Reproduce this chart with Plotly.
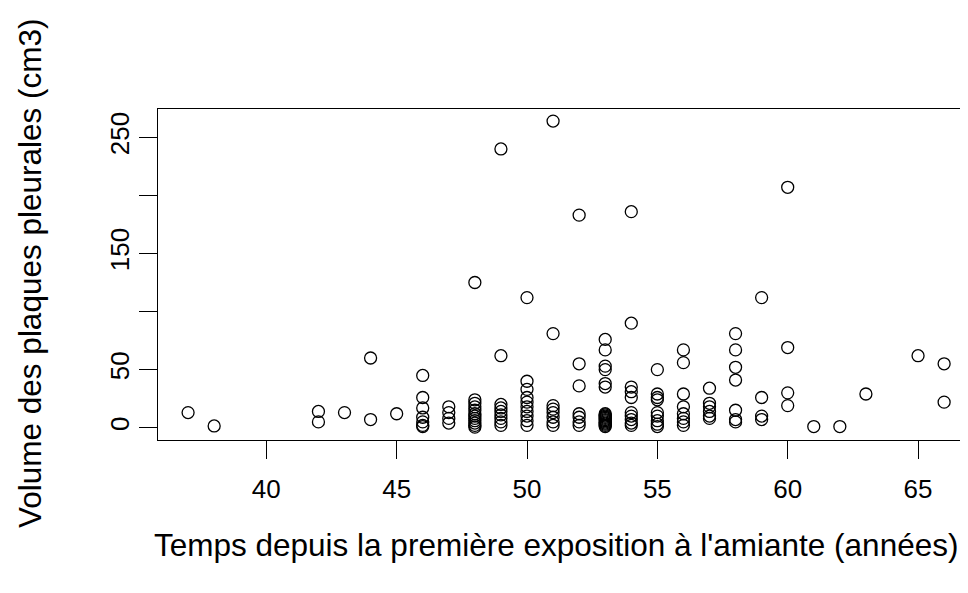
import plotly.graph_objects as go

# Temps depuis la première exposition (années) and volume des plaques (cm3)
temps = [37, 38, 42, 42, 43, 44, 44, 45,
         46, 46, 46, 46, 46, 46, 46,
         47, 47, 47, 47,
         48, 48, 48, 48, 48, 48, 48, 48, 48, 48, 48, 48,
         49, 49, 49, 49, 49, 49, 49, 49, 49,
         50, 50, 50, 50, 50, 50, 50, 50, 50, 50,
         51, 51, 51, 51, 51, 51, 51, 51,
         52, 52, 52, 52, 52, 52, 52,
         53, 53, 53, 53, 53, 53, 53, 53, 53, 53, 53, 53, 53, 53, 53, 53, 53, 53,
         54, 54, 54, 54, 54, 54, 54, 54, 54, 54,
         55, 55, 55, 55, 55, 55, 55, 55, 55,
         56, 56, 56, 56, 56, 56, 56, 56,
         57, 57, 57, 57, 57, 57,
         58, 58, 58, 58, 58, 58, 58,
         59, 59, 59, 59,
         60, 60, 60, 60,
         61, 62, 63, 65, 66, 66]
volume = [13, 1.5, 14, 5, 13, 60, 7, 12,
          45, 26, 17, 9, 5, 2, 1,
          18, 13, 8, 4,
          125, 24, 21, 18, 15, 12, 10, 8, 6, 4, 2, 0.5,
          240, 62, 20, 17, 14, 11, 8, 5, 2,
          112, 40, 33, 26, 22, 18, 14, 10, 6, 2,
          264, 81, 19, 16, 13, 9, 5, 2,
          183, 55, 36, 12, 9, 5, 2,
          76, 67, 53, 50, 38, 35, 12, 11, 10, 9, 8, 7, 6, 5, 4, 3, 2, 1,
          186, 90, 35, 31, 26, 13, 10, 7, 4, 2,
          50, 29, 26, 24, 13, 10, 6, 3, 1,
          67, 56, 29, 18, 12, 8, 5, 2,
          34, 21, 18, 14, 10, 8,
          81, 67, 52, 41, 15, 7, 5,
          112, 26, 10, 7,
          207, 69, 30, 19,
          1, 1, 29, 62, 55, 22]

x_ticks = [40, 45, 50, 55, 60, 65]
y_ticks = [0, 50, 100, 150, 200, 250]
y_ticktext = ["0", "50", "", "150", "", "250"]

x_title = "Temps depuis la première exposition à l'amiante (années)"
y_title = "Volume des plaques pleurales (cm3)"

FONT = "Liberation Sans, Arial, sans-serif"

fig = go.Figure()
fig.add_trace(go.Scatter(
    x=temps, y=volume, mode="markers",
    marker=dict(symbol="circle-open", size=12, color="black",
                line=dict(width=1.3, color="black")),
    hoverinfo="x+y", showlegend=False,
))

# the page body adds an 8px offset, so the figure is 960x585
fig.update_layout(
    width=960, height=585,
    margin=dict(l=150, r=0, t=101, b=153, autoexpand=False),
    paper_bgcolor="white", plot_bgcolor="white",
    font=dict(family=FONT, color="black"),
    xaxis=dict(range=[35.846, 66.916], tickvals=x_ticks, automargin=False,
               ticks="outside", ticklen=18, tickwidth=1, tickcolor="black",
               showline=True, mirror=True, linecolor="black", linewidth=1,
               showgrid=False, zeroline=False, ticklabelstandoff=8,
               tickfont=dict(size=26, family=FONT, color="black")),
    yaxis=dict(range=[-10.6, 274.4], tickvals=y_ticks, ticktext=y_ticktext,
               automargin=False,
               ticks="outside", ticklen=18, tickwidth=1, tickcolor="black",
               showline=True, mirror=False, linecolor="black", linewidth=1,
               showgrid=False, zeroline=False, tickangle=-90,
               tickfont=dict(size=26, family=FONT, color="black")),
    annotations=[
        dict(text=x_title, xref="paper", yref="paper",
             x=(556 - 158) / 810, y=(440 - 545) / 331,
             xanchor="center", yanchor="middle", showarrow=False,
             font=dict(size=31.5, family=FONT, color="black")),
        dict(text=y_title, xref="paper", yref="paper",
             x=(30 - 158) / 810, y=(440 - 273) / 331,
             xanchor="center", yanchor="middle", showarrow=False, textangle=-90,
             font=dict(size=31.5, family=FONT, color="black")),
    ],
)

fig.write_html("out.html")
